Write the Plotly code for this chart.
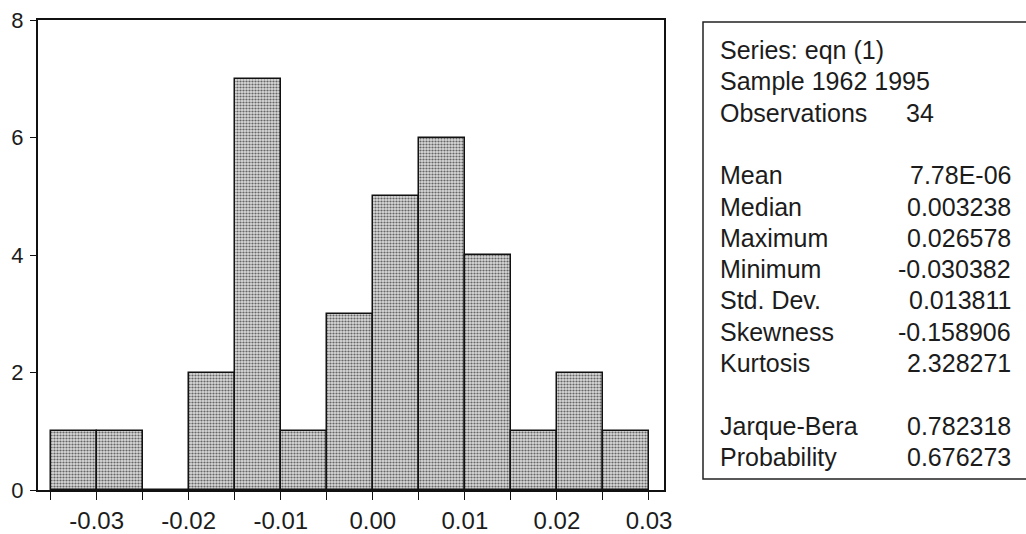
import plotly.graph_objects as go

# ---------------- data ----------------
bin_left = [-0.035, -0.030, -0.025, -0.020, -0.015, -0.010, -0.005,
            0.000, 0.005, 0.010, 0.015, 0.020, 0.025]
counts = [1, 1, 0, 2, 7, 1, 3, 5, 6, 4, 1, 2, 1]
bin_width = 0.005

x_tickvals = [-0.035, -0.030, -0.025, -0.020, -0.015, -0.010, -0.005,
              0.000, 0.005, 0.010, 0.015, 0.020, 0.025, 0.030]
x_ticktext = ["", "-0.03", "", "-0.02", "", "-0.01", "",
              "0.00", "", "0.01", "", "0.02", "", "0.03"]
y_tickvals = [0, 2, 4, 6, 8]

header_lines = ["Series: eqn (1)", "Sample 1962 1995", "Observations"]
header_value = "34"
stat_labels = ["Mean", "Median", "Maximum", "Minimum", "Std. Dev.",
               "Skewness", "Kurtosis", "Jarque-Bera", "Probability"]
stat_values = ["7.78E-06", "0.003238", "0.026578", "-0.030382", "0.013811",
               "-0.158906", "2.328271", "0.782318", "0.676273"]

# ---------------- layout constants ----------------
W, H = 1026, 534
L, R, T, B = 38, 362, 20, 44
PW, PH = W - L - R, H - T - B
FONT = "Liberation Sans, Arial, sans-serif"
FS = 25
TXT = "#1c1c1c"


def px(xp):
    return (xp - L) / PW


def py(yp):
    return (H - B - yp) / PH


centers = [b + bin_width / 2 for b in bin_left]

fig = go.Figure()
fig.add_trace(go.Bar(
    x=centers, y=counts, width=[bin_width] * len(counts),
    marker=dict(
        color="#cccccc",
        line=dict(color="#111111", width=1.5),
        pattern=dict(shape=".", size=3, solidity=0.42,
                     fgcolor="#666666", bgcolor="#dadada", fillmode="replace"),
    ),
    showlegend=False, hoverinfo="skip",
))

fig.update_layout(
    width=W, height=H,
    margin=dict(l=L, r=R, t=T, b=B, pad=0, autoexpand=False),
    paper_bgcolor="white", plot_bgcolor="white",
    bargap=0,
    font=dict(family=FONT, size=FS, color=TXT),
    xaxis=dict(
        range=[-0.03637, 0.03163], tickvals=x_tickvals, ticktext=x_ticktext,
        ticks="outside", ticklen=8, tickwidth=1.3, tickcolor="#111",
        showline=True, linecolor="#111", linewidth=2, mirror=True,
        showgrid=False, zeroline=False, tickfont=dict(size=24),
        ticklabelstandoff=0, automargin=False,
    ),
    yaxis=dict(
        range=[0, 8], tickvals=y_tickvals,
        ticks="outside", ticklen=6, tickwidth=1.3, tickcolor="#111",
        showline=True, linecolor="#111", linewidth=2, mirror=True,
        showgrid=False, zeroline=False, tickfont=dict(size=22),
        ticklabelstandoff=2, automargin=False,
    ),
)

# stats box
fig.add_shape(type="rect", xref="paper", yref="paper",
              x0=px(703), x1=px(1030), y0=py(479), y1=py(22),
              line=dict(color="#222", width=1.5), fillcolor="rgba(0,0,0,0)")

label_x = 718
value_x = 1013
row_step = 31.3
row_top = 50
header_slots = [0, 1, 2]
stat_slots = [4, 5, 6, 7, 8, 9, 10, 12, 13]

for txt, k in zip(header_lines, header_slots):
    fig.add_annotation(x=px(label_x), y=py(row_top + k * row_step),
                       xref="paper", yref="paper",
                       text=txt, showarrow=False, xanchor="left", yanchor="middle",
                       font=dict(family=FONT, size=FS, color=TXT))
fig.add_annotation(x=px(904), y=py(row_top + header_slots[2] * row_step),
                   xref="paper", yref="paper",
                   text=header_value, showarrow=False, xanchor="left", yanchor="middle",
                   font=dict(family=FONT, size=FS, color=TXT))

for lab, val, k in zip(stat_labels, stat_values, stat_slots):
    yy = py(row_top + k * row_step)
    fig.add_annotation(x=px(label_x), y=yy, xref="paper", yref="paper",
                       text=lab, showarrow=False, xanchor="left", yanchor="middle",
                       font=dict(family=FONT, size=FS, color=TXT))
    fig.add_annotation(x=px(value_x), y=yy, xref="paper", yref="paper",
                       text=val, showarrow=False, xanchor="right", yanchor="middle",
                       font=dict(family=FONT, size=FS, color=TXT))

fig.write_html("out.html")
